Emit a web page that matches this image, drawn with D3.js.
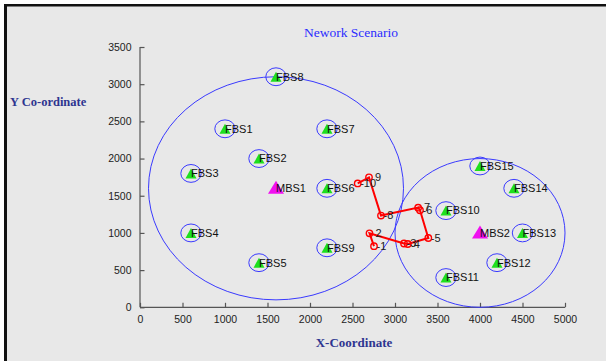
<!DOCTYPE html>
<html>
<head>
<meta charset="utf-8">
<script src="https://cdn.jsdelivr.net/npm/d3@7"></script>
<style>
  html, body { margin: 0; padding: 0; background: #ffffff; }
  svg { display: block; }
</style>
</head>
<body>
<svg id="chart" width="606" height="361"></svg>
<script>
// Femto base stations
const fbsNames = ["FBS1","FBS2","FBS3","FBS4","FBS5","FBS6","FBS7","FBS8",
                  "FBS9","FBS10","FBS11","FBS12","FBS13","FBS14","FBS15"];
const fbsX = [1000,1400,600,600,1400,2200,2200,1600,2200,3600,3600,4200,4500,4400,4000];
const fbsY = [2400,2000,1800,1000,600,1600,2400,3100,800,1300,400,600,1000,1600,1900];
const fbsRadius = 120;

// Macro base stations and their coverage radii
const mbsNames = ["MBS1","MBS2"];
const mbsX = [1600,4000];
const mbsY = [1600,1000];
const mbsRadius = [1500,1000];

// User trajectory
const pathLabels = ["-1","2","-3","4","-5","-6","7","-8","9","-10"];
const pathX = [2753,2700,3106,3150,3392,3294,3272,2835,2694,2561];
const pathY = [822,995,858,851,932,1305,1340,1233,1747,1666];

// Axis ticks
const xTicks = [0,500,1000,1500,2000,2500,3000,3500,4000,4500,5000];
const yTicks = [0,500,1000,1500,2000,2500,3000,3500];

const svg = d3.select("#chart");

// figure background with dark frame on top/left
svg.append("rect").attr("x", 4).attr("y", 4).attr("width", 602).attr("height", 357)
  .attr("fill", "#e8e8e8");
svg.append("rect").attr("x", 4).attr("y", 4).attr("width", 3).attr("height", 357).attr("fill", "#111");
svg.append("rect").attr("x", 4).attr("y", 4).attr("width", 602).attr("height", 2.5).attr("fill", "#111");

const x = d3.scaleLinear().domain([0, 5000]).range([140, 565]);
const y = d3.scaleLinear().domain([0, 3500]).range([307.3, 47]);

// axes
const axisColor = "#555";
const xAxis = d3.axisBottom(x).tickValues(xTicks).tickSize(-4.5).tickPadding(8).tickFormat(d3.format("d"));
const yAxis = d3.axisLeft(y).tickValues(yTicks).tickSize(-4.5).tickPadding(8).tickFormat(d3.format("d"));

const gx = svg.append("g").attr("transform", `translate(0,${y(0)})`).call(xAxis);
const gy = svg.append("g").attr("transform", `translate(${x(0)},0)`).call(yAxis);
[gx, gy].forEach(g => {
  g.select(".domain").attr("stroke", axisColor).attr("stroke-width", 1.2);
  g.selectAll(".tick line").attr("stroke", axisColor).attr("stroke-width", 1.2);
  g.selectAll(".tick text").attr("fill", "#222")
    .style("font-family", "'Liberation Sans', Arial, sans-serif").style("font-size", "10.5px");
});
gx.select(".domain").attr("d", `M${x(0)},0H${x(5000)}`);
gy.select(".domain").attr("d", `M0,${y(0)}V${y(3500)}`);
gy.selectAll(".tick text").attr("dx", "-0.5");

const plot = svg.append("g");
const circleColor = "#3a3aff";

// coverage areas of the macro cells (circles in data units)
mbsX.forEach((mx, i) => {
  plot.append("ellipse")
    .attr("cx", x(mx)).attr("cy", y(mbsY[i]))
    .attr("rx", x(mbsRadius[i]) - x(0)).attr("ry", y(0) - y(mbsRadius[i]))
    .attr("fill", "none").attr("stroke", circleColor).attr("stroke-width", 1);
});

const tri = (cx, cy, w, h) =>
  `M${cx - w / 2},${cy + h / 2}L${cx},${cy - h / 2}L${cx + w / 2},${cy + h / 2}Z`;

const labelFont = "'Liberation Sans', Arial, sans-serif";

// femto cells
fbsX.forEach((fx, i) => {
  const cx = x(fx), cy = y(fbsY[i]);
  plot.append("ellipse")
    .attr("cx", cx).attr("cy", cy)
    .attr("rx", x(fbsRadius) - x(0)).attr("ry", y(0) - y(fbsRadius))
    .attr("fill", "none").attr("stroke", circleColor).attr("stroke-width", 1);
  plot.append("path").attr("d", tri(cx, cy, 11, 10)).attr("fill", "#1ee01e");
  plot.append("text").attr("x", cx).attr("y", cy).attr("dy", "0.35em")
    .attr("fill", "#111").style("font-family", labelFont).style("font-size", "11px")
    .text(fbsNames[i]);
});

// macro stations
mbsX.forEach((mx, i) => {
  const cx = x(mx), cy = y(mbsY[i]);
  plot.append("path").attr("d", tri(cx, cy - 1, 16, 13)).attr("fill", "#f010f0");
  plot.append("text").attr("x", cx).attr("y", cy).attr("dy", "0.35em")
    .attr("fill", "#111").style("font-family", labelFont).style("font-size", "11px")
    .text(mbsNames[i]);
});

// trajectory
const pts = pathX.map((px, i) => [x(px), y(pathY[i])]);
plot.append("path").attr("d", d3.line()(pts))
  .attr("fill", "none").attr("stroke", "#ff0000").attr("stroke-width", 2);
plot.selectAll(".pt").data(pts).join("circle")
  .attr("cx", d => d[0]).attr("cy", d => d[1]).attr("r", 3.2)
  .attr("fill", "none").attr("stroke", "#ff0000").attr("stroke-width", 1.4);
plot.selectAll(".pl").data(pts).join("text")
  .attr("x", (d, i) => d[0] + (pathLabels[i].startsWith("-") ? 2.5 : 6))
  .attr("y", d => d[1]).attr("dy", "0.35em")
  .attr("fill", "#222").style("font-family", labelFont).style("font-size", "11px")
  .text((d, i) => pathLabels[i]);

// titles
svg.append("text").attr("x", 351).attr("y", 37.3).attr("text-anchor", "middle")
  .attr("fill", "#2b2bff").style("font-family", "'Liberation Serif', 'Times New Roman', serif")
  .style("font-size", "13.5px").text("Nework Scenario");
svg.append("text").attr("x", 10).attr("y", 106).attr("fill", "#2e3590")
  .style("font-family", "'Liberation Serif', 'Times New Roman', serif")
  .style("font-size", "12.5px").style("font-weight", "bold").text("Y Co-ordinate");
svg.append("text").attr("x", 354).attr("y", 347).attr("text-anchor", "middle").attr("fill", "#2e3590")
  .style("font-family", "'Liberation Serif', 'Times New Roman', serif")
  .style("font-size", "13px").style("font-weight", "bold").text("X-Coordinate");
</script>
</body>
</html>
